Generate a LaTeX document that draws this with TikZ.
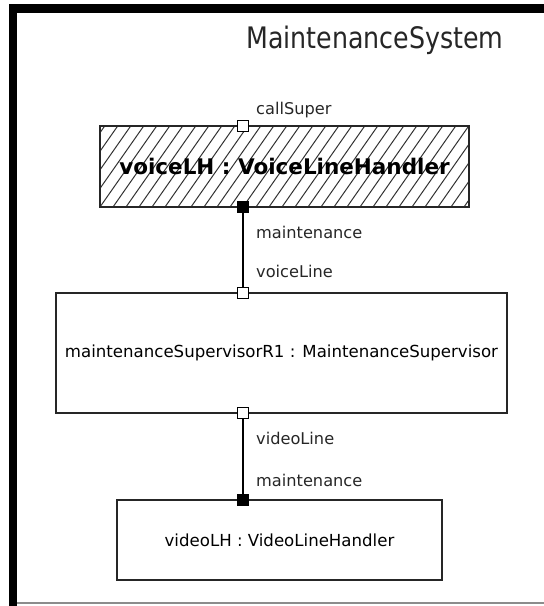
\documentclass[tikz,border=0pt]{standalone}
\usepackage{fontspec}
\setmainfont{DejaVu Sans}

\tikzset{
  x=1pt, y=-1pt,
  part/.style={draw=black!85, line width=1.5pt, fill=white, inner sep=0pt,
    font=\fontsize{16.6}{19}\selectfont},
  hatchpart/.style={part, font=\fontsize{21.5}{24}\selectfont\bfseries,
    path picture={
      \foreach \i in {-6,...,30}
        \draw[black!80, line width=1pt]
          ([xshift=\i*13pt]path picture bounding box.south west) -- ++(56.7pt,81pt);
    }},
  openport/.style={draw=black, line width=1.4pt, fill=white, minimum size=11pt, inner sep=0pt},
  solidport/.style={openport, fill=black},
  conn/.style={draw=black, line width=1.5pt},
  lbl/.style={inner sep=0pt, font=\fontsize{16.2}{19}\selectfont, text=black!85}
}

\begin{document}
\begin{tikzpicture}
  \useasboundingbox (0,0) rectangle (544,606);

  % enclosing frame: heavy left and top rules, thin bottom rule
  \fill[black] (9,4) rectangle (544,13);
  \fill[black] (9,4) rectangle (17,606);
  \draw[black!45, line width=1.5pt] (17,603) -- (544,603);

  % structured class name
  \node[anchor=base west, inner sep=0pt, font=\fontsize{25.3}{28}\selectfont, text=black!85]
    (title) at (246,48) {\scalebox{1}[1.17]{MaintenanceSystem}};

  % parts
  \node[hatchpart, minimum width=369pt, minimum height=81pt] (voice) at (284.5,166.5)
    {voiceLH : VoiceLineHandler};
  \node[part, minimum width=451pt, minimum height=120pt] (super) at (281.5,353)
    {maintenanceSupervisorR1 : MaintenanceSupervisor};
  \node[part, minimum width=325pt, minimum height=80pt] (video) at (279.5,540)
    {videoLH : VideoLineHandler};

  % ports
  \node[openport]  (callSuper)  at (243,126) {};
  \node[solidport] (voiceMaint) at (243,207) {};
  \node[openport]  (voiceLine)  at (243,293) {};
  \node[openport]  (videoLine)  at (243,413) {};
  \node[solidport] (videoMaint) at (243,500) {};

  % connectors
  \draw[conn] (voiceMaint) -- (voiceLine);
  \draw[conn] (videoLine) -- (videoMaint);

  % port labels
  \node[lbl, anchor=base west] (lCallSuper)  at (256,114) {callSuper};
  \node[lbl, anchor=base west] (lVoiceMaint) at (256,238) {maintenance};
  \node[lbl, anchor=base west] (lVoiceLine)  at (256,277) {voiceLine};
  \node[lbl, anchor=base west] (lVideoLine)  at (256,444) {videoLine};
  \node[lbl, anchor=base west] (lVideoMaint) at (256,486) {maintenance};
\end{tikzpicture}
\end{document}
